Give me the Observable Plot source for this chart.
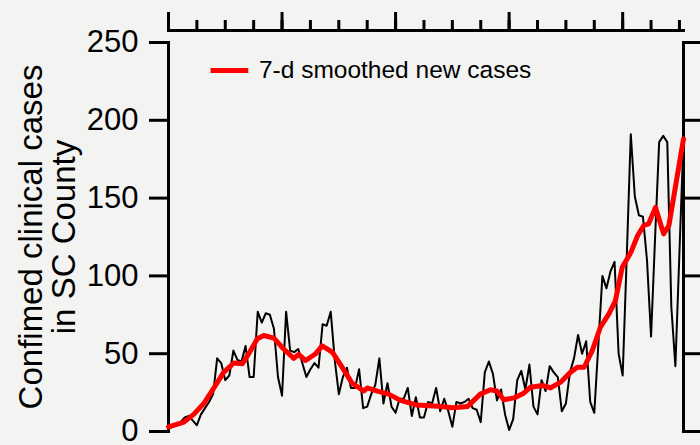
<!DOCTYPE html>
<html><head><meta charset="utf-8">
<script src="https://cdn.jsdelivr.net/npm/d3@7"></script>
<script src="https://cdn.jsdelivr.net/npm/@observablehq/plot@0.6"></script>
<style>
html,body{margin:0;padding:0;background:#f3f3f2;}
#chart svg{display:block;}
</style></head><body><div id="chart"></div>
<script>
// Daily confirmed clinical cases (day 0 .. 127)
const dailyCases = [
  2, 3, 4, 6, 9, 10, 7, 4, 11, 15,
  19, 24, 47, 44, 33, 36, 52, 46, 45, 55,
  35, 35, 77, 70, 76, 75, 66, 35, 23, 77,
  52, 51, 53, 44, 35, 40, 44, 41, 69, 68,
  77, 46, 24, 35, 41, 28, 28, 40, 15, 16,
  24, 30, 47, 18, 31, 16, 12, 21, 21, 28,
  10, 22, 9, 9, 19, 18, 28, 13, 21, 13,
  3, 19, 18, 19, 21, 15, 14, 6, 38, 45,
  37, 20, 27, 11, 1, 8, 33, 39, 27, 43,
  16, 11, 33, 26, 42, 38, 35, 13, 18, 38,
  47, 62, 50, 58, 19, 12, 56, 100, 92, 103,
  109, 50, 36, 112, 191, 151, 139, 138, 110, 61,
  125, 186, 190, 186, 80, 42, 115, 188
];
// 7-day smoothed series
const smoothDay = [0, 3.8, 6.2, 8.7, 11.2, 13.6, 16.1, 18.2, 19.8, 21.9, 23.5, 26, 28.4, 30.9, 32.1, 33.8, 36.3, 37.9, 40.4, 42.4, 45.3, 48.2, 49, 51.5, 54.3, 57.2, 61.3, 66.3, 70, 73.7, 75.3, 76.9, 79.4, 81, 82.7, 85.2, 87.6, 89.3, 92.2, 94.2, 96.7, 99.1, 100.8, 102.5, 104.5, 106.5, 108.6, 110.2, 111.9, 114, 115.7, 117.2, 118.4, 120.1, 122.1, 123.4, 127];
const smoothValue = [3, 6, 11, 18, 28, 38, 44, 43.5, 50, 59.6, 61.7, 60, 53, 47, 49.5, 45.6, 50, 55, 51, 43, 31, 26, 28, 26, 24, 20, 17, 16.3, 15.2, 16, 20, 24, 26.8, 26, 20.4, 21.6, 24.6, 28.5, 29.6, 28, 31.7, 38, 41.3, 41.3, 52, 67, 75.6, 84, 105.6, 115, 126, 132.4, 133.5, 144, 127, 132.4, 188];

const yTicks = [0, 50, 100, 150, 200, 250];
const weekTicks = [0, 7, 14, 21, 28, 35, 42, 49, 56, 63, 70, 77, 84, 91, 98, 105, 112, 119, 126];
const monthTicks = [0, 28, 56, 84, 112];
const yLabel = "Confimed clinical cases\nin SC County";
const legendLabel = "7-d smoothed new cases";

const daily = dailyCases.map((v, i) => ({day: i, cases: v}));
const smooth = smoothDay.map((d, i) => ({day: d, cases: smoothValue[i]}));

const chart = Plot.plot({
  width: 700, height: 445,
  marginLeft: 168, marginRight: 17, marginTop: 42, marginBottom: 14,
  style: {background: "#f3f3f2", fontFamily: "'Liberation Sans', Arial, Helvetica, sans-serif", color: "black", overflow: "visible"},
  x: {domain: [0, 127]},
  y: {domain: [0, 250]},
  marks: [
    Plot.frame({anchor: "left", strokeWidth: 3, stroke: "black"}),
    Plot.frame({anchor: "right", strokeWidth: 3, stroke: "black"}),
    Plot.frame({anchor: "top", strokeWidth: 3, stroke: "black", dy: -12, strokeLinecap: "square"}),
    Plot.axisY(yTicks, {anchor: "left", tickSize: 19, tickPadding: 11, fontSize: 31, strokeWidth: 3, label: null}),
    Plot.axisY(yTicks, {anchor: "right", tickSize: 18, tickFormat: () => "", strokeWidth: 3, label: null}),
    Plot.axisX(weekTicks, {anchor: "top", tickSize: 11, tickFormat: () => "", strokeWidth: 3, dy: -12, label: null}),
    Plot.axisX(monthTicks, {anchor: "top", tickSize: 19, tickFormat: () => "", strokeWidth: 3, dy: -12, label: null}),
    Plot.lineY(daily, {x: "day", y: "cases", stroke: "black", strokeWidth: 2, strokeLinejoin: "round"}),
    Plot.line(smooth, {x: "day", y: "cases", stroke: "#ff0000", strokeWidth: 5, strokeLinejoin: "round", curve: "linear"}),
    Plot.ruleY([232], {x1: 10.5, x2: 19.8, stroke: "#ff0000", strokeWidth: 5}),
    Plot.text([legendLabel], {x: 22.3, y: 232, text: d => d, textAnchor: "start", fontSize: 24.5, fill: "black"}),
    Plot.text([yLabel], {frameAnchor: "left", text: d => d, rotate: -90, lineAnchor: "top", textAnchor: "middle", fontSize: 33, lineHeight: 1, dx: -150, fill: "black"})
  ]
});
document.getElementById("chart").appendChild(chart);
</script>
</body></html>
